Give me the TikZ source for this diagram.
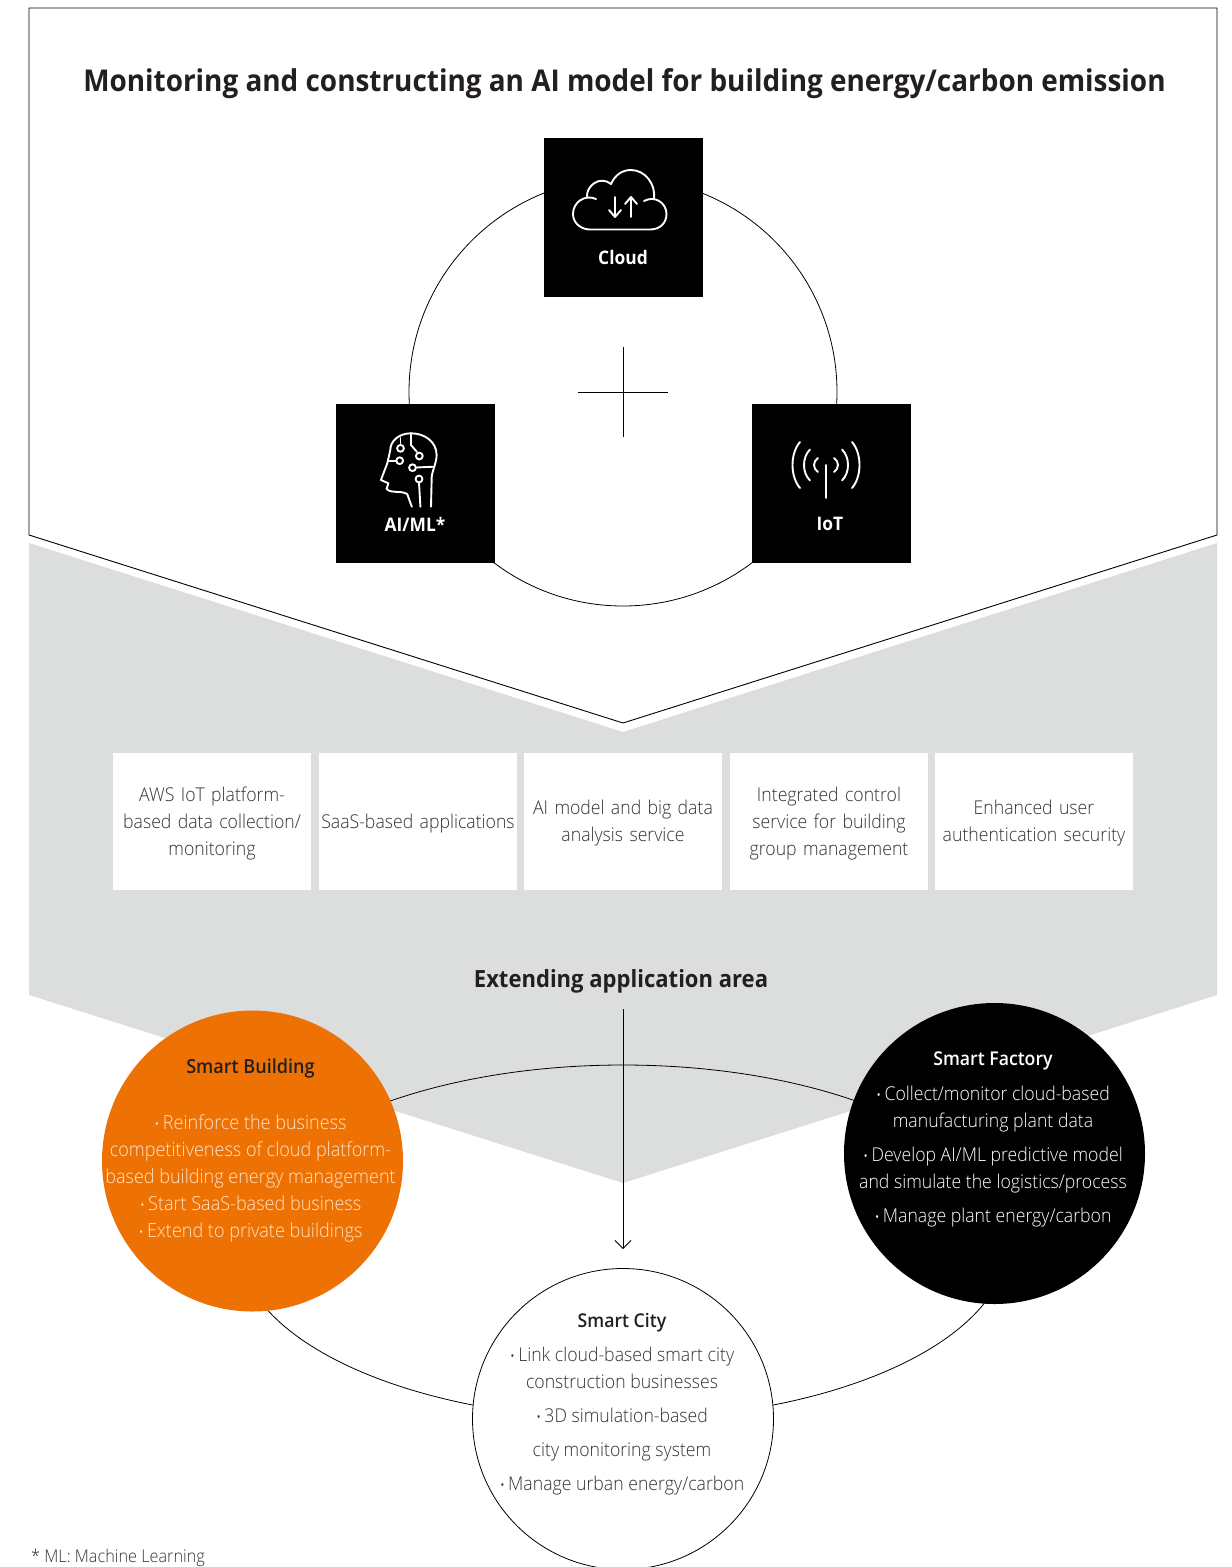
\documentclass[tikz,border=0pt]{standalone}
\usepackage{fontspec}
\setmainfont{Open Sans}[FakeStretch=0.93]
\newfontfamily\lightfont{Open Sans Light}[FakeStretch=0.93]
\usetikzlibrary{shapes.geometric,arrows.meta}
\definecolor{inkblack}{HTML}{231F20}
\definecolor{panelgrey}{HTML}{DCDEDD}
\definecolor{bodygrey}{HTML}{333333}
\definecolor{brandorange}{HTML}{EE7203}
\definecolor{creamtext}{HTML}{FFE3C8}
\newcommand{\bulletdot}{\raisebox{.02em}{\fontsize{15}{15}\selectfont •}\,}
\tikzset{
  iconline/.style={draw=white,line width=1.9pt,line cap=round,line join=round},
  techbox/.style={fill=black,minimum size=159pt,inner sep=0pt},
  techlabel/.style={text=white,font=\fontsize{18.7}{23}\selectfont\bfseries},
  featurebox/.style={fill=white,minimum height=137pt,minimum width=198pt,inner sep=0pt},
  featuretext/.style={text width=198pt,inner sep=0pt,align=center,text=bodygrey,font=\fontsize{19}{27}\selectfont\lightfont},
  areacircle/.style={circle,minimum size=301pt,inner sep=0pt},
  areatext/.style={align=center,inner sep=0pt,font=\fontsize{19}{27}\selectfont\lightfont}
}
\begin{document}
\begin{tikzpicture}[x=1pt,y=-1pt]
  \useasboundingbox (0,0) rectangle (1232,1567);

  % panels
  \fill[panelgrey] (29,543) -- (623,732) -- (1217,543) -- (1217,995) -- (623,1183) -- (29,995) -- cycle;
  \draw[fill=white,line width=.9pt] (29,8) -- (1217,8) -- (1217,535) -- (623,723) -- (29,535) -- cycle;
  \node (title) [text=inkblack,font=\fontsize{30}{36}\selectfont\bfseries] at (624.5,84) {Monitoring and constructing an AI model for building energy/carbon emission};

  % core technologies
  \node (corering) [circle,draw,line width=.8pt,minimum size=428pt,inner sep=0pt] at (623,392) {};
  \node (cloud) [techbox] at (623.5,217.5) {};
  \node (aiml) [techbox] at (415.5,483.5) {};
  \node (iot) [techbox] at (831.5,483.5) {};
  \node (cloudlabel) [techlabel] at (623,257) {Cloud};
  \node (aimllabel) [techlabel] at (415,524) {AI/ML*};
  \node (iotlabel) [techlabel] at (830,524) {IoT};

  \coordinate (crossn) at (623,347);
  \coordinate (crosss) at (623,437);
  \coordinate (crossw) at (578,392);
  \coordinate (crosse) at (668,392);
  \draw[line width=.9pt] (crossn) -- (crosss);
  \draw[line width=.9pt] (crossw) -- (crosse);

  % cloud icon
  \draw[iconline] (596,199) .. controls (585,194) and (573,202) .. (573,214) .. controls (573,223) and (581,229.5) .. (590,229.5) -- (650,229.5) .. controls (660,229.5) and (666.5,223) .. (666.5,214) .. controls (666.5,203) and (655,195) .. (644,201);
  \draw[iconline] (587,197) .. controls (586,186) and (600,175) .. (611,184) .. controls (615,175) and (622,170) .. (631,170) .. controls (645,170) and (656,184) .. (654,199);
  \draw[iconline] (615,197) -- (615,217) (609,210) -- (615,217) -- (621,210);
  \draw[iconline] (631,217) -- (631,197) (625,204) -- (631,197) -- (637,204);

  % head icon
  \draw[iconline] (431,506.7) -- (431.7,476.7) .. controls (433,468) and (436.6,463) .. (436.6,455) .. controls (436.6,442) and (425,433.3) .. (411,433.3) .. controls (399,433.3) and (390.3,441) .. (390.3,450) -- (387.3,463.3) -- (380.9,480) -- (388.4,483.3) -- (386.5,489) .. controls (392,494) and (400,490) .. (407.2,494) -- (411.8,506.7);
  \draw[iconline] (411,433.3) -- (411,445) -- (417,452);
  \draw[iconline] (400.5,438) -- (400.5,445);
  \draw[iconline] (396,460.7) -- (388.4,460.7);
  \draw[iconline] (416,467.5) -- (433.6,466.7);
  \draw[iconline] (419,482.5) -- (420.4,506.7);
  \foreach \cx/\cy in {419.3/456,400.5/448.3,399.7/460.7,412.5/467.7,419/479}
    \draw[iconline] (\cx,\cy) circle (3.4pt);

  % antenna icon
  \draw[iconline] (826,498) -- (826,465);
  \foreach \s in {-1,1}
    \foreach \dx/\ctl/\dy in {8/13.3/7,16/24/15.5,26/36/23}
      \draw[iconline] (826+\s*\dx,465-\dy) .. controls (826+\s*\ctl,465-\dy*.5) and (826+\s*\ctl,465+\dy*.5) .. (826+\s*\dx,465+\dy);

  % features
  \foreach \name/\xpos in {feature1/212,feature2/418,feature3/623,feature4/829,feature5/1034}
    \node (\name) [featurebox] at (\xpos,821.5) {};
  \node (feature1text) [featuretext] at (212,823.5) {AWS IoT platform-\\based data collection/\\monitoring};
  \node (feature2text) [featuretext] at (418,823.5) {SaaS-based applications};
  \node (feature3text) [featuretext] at (623,823.5) {AI model and big data\\analysis service};
  \node (feature4text) [featuretext] at (829,823.5) {Integrated control\\service for building\\group management};
  \node (feature5text) [featuretext] at (1034,823.5) {Enhanced user\\authentication security};

  \node (extend) [text=inkblack,font=\fontsize{23.7}{29}\selectfont\bfseries] at (621,981) {Extending application area};

  % application areas
  \node (areaellipse) [ellipse,draw,line width=.8pt,minimum width=770pt,minimum height=354pt,inner sep=0pt] at (623,1242) {};
  \coordinate (arrowtop) at (623,1009);
  \coordinate (arrowend) at (623,1249);
  \draw[line width=.8pt,-{Straight Barb[length=8pt,width=16pt]}] (arrowtop) -- (arrowend);

  \node (building) [areacircle,fill=brandorange] at (252.5,1161) {};
  \node (factory) [areacircle,fill=black] at (994.5,1153.5) {};
  \node (city) [areacircle,draw,fill=white,line width=.8pt] at (623,1419) {};

  \node (buildingtext) [areatext,text=creamtext,anchor=north,font=\fontsize{19.4}{27}\selectfont\lightfont] at (250.5,1059) {{\bfseries\color{inkblack}Smart Building}\\[29pt]\bulletdot Reinforce the business\\competitiveness of cloud platform-\\based building energy management\\\bulletdot Start SaaS-based business\\\bulletdot Extend to private buildings};
  \node (factorytext) [areatext,text=white,anchor=north] at (993,1052) {{\bfseries Smart Factory}\\[8pt]\bulletdot Collect/monitor cloud-based\\manufacturing plant data\\[7pt]\bulletdot Develop AI/ML predictive model\\and simulate the logistics/process\\[7pt]\bulletdot Manage plant energy/carbon};
  \node (citytext) [areatext,text=bodygrey,anchor=north] at (622,1313) {{\bfseries\color{inkblack}Smart City}\\[7pt]\bulletdot Link cloud-based smart city\\construction businesses\\[7pt]\bulletdot 3D simulation-based\\[7pt]city monitoring system\\[7pt]\bulletdot Manage urban energy/carbon};

  \node (footnote) [anchor=west,inner sep=0pt,text=bodygrey,font=\fontsize{17.5}{22}\selectfont\lightfont] at (31,1557.5) {* ML: Machine Learning};
\end{tikzpicture}
\end{document}
